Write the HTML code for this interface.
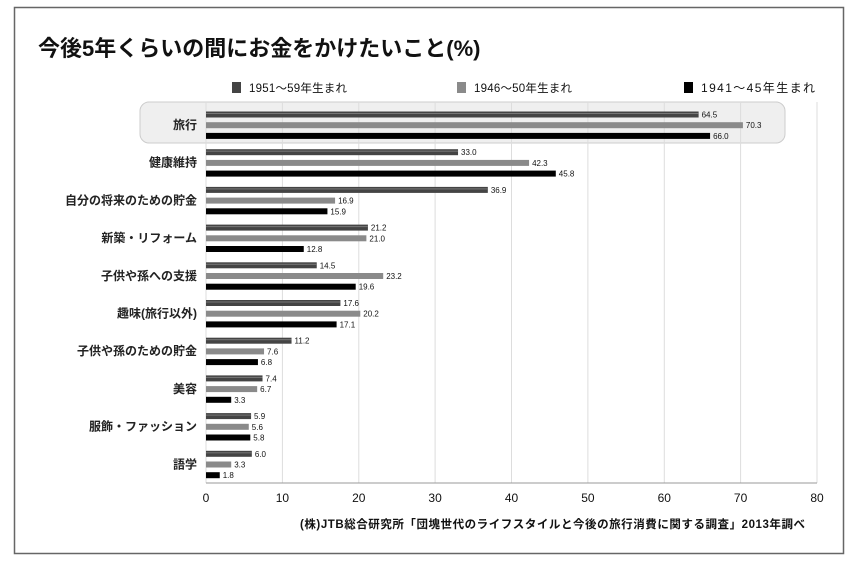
<!DOCTYPE html>
<html><head><meta charset="utf-8"><style>
body{margin:0;background:#fff;}
svg text{font-family:"Liberation Sans","Noto Sans CJK JP",sans-serif;}
</style></head><body>
<svg width="858" height="565" xmlns="http://www.w3.org/2000/svg">
<rect x="14.5" y="7.5" width="829" height="546" fill="#fff" stroke="#666" stroke-width="1.5"/>
<text x="38" y="56" font-size="22" font-weight="bold" fill="#111">今後5年くらいの間にお金をかけたいこと(%)</text>
<rect x="232" y="82" width="9" height="11" fill="#444"/>
<text x="249" y="92" font-size="11.5" fill="#111" textLength="98">1951～59年生まれ</text>
<rect x="457" y="82" width="9" height="11" fill="#8a8a8a"/>
<text x="474" y="92" font-size="11.5" fill="#111" textLength="98">1946～50年生まれ</text>
<rect x="684" y="82" width="9" height="11" fill="#000"/>
<text x="701" y="92" font-size="12" fill="#111" textLength="114">1941～45年生まれ</text>
<rect x="140" y="102" width="645" height="41" rx="9" fill="#efefef" stroke="#ccc"/>
<g stroke="#ddd" stroke-width="1">
<line x1="282.4" y1="102" x2="282.4" y2="483"/><line x1="358.8" y1="102" x2="358.8" y2="483"/>
<line x1="435.1" y1="102" x2="435.1" y2="483"/><line x1="511.5" y1="102" x2="511.5" y2="483"/>
<line x1="587.9" y1="102" x2="587.9" y2="483"/><line x1="664.3" y1="102" x2="664.3" y2="483"/>
<line x1="740.6" y1="102" x2="740.6" y2="483"/><line x1="817" y1="102" x2="817" y2="483"/>
<line x1="206" y1="102" x2="206" y2="483"/>
</g>
<line x1="206" y1="483" x2="817" y2="483" stroke="#999"/>
<g id="bars"></g>
<g font-size="12" fill="#111" text-anchor="middle">
<text x="206" y="502">0</text><text x="282.4" y="502">10</text><text x="358.8" y="502">20</text><text x="435.1" y="502">30</text><text x="511.5" y="502">40</text><text x="587.9" y="502">50</text><text x="664.3" y="502">60</text><text x="740.6" y="502">70</text><text x="817" y="502">80</text>
</g>
<text x="300" y="528" font-size="11.5" font-weight="bold" fill="#111" textLength="505">(株)JTB総合研究所「団塊世代のライフスタイルと今後の旅行消費に関する調査」2013年調べ</text>
</svg>
<script>
var cats=["旅行","健康維持","自分の将来のための貯金","新築・リフォーム","子供や孫への支援","趣味(旅行以外)","子供や孫のための貯金","美容","服飾・ファッション","語学"];
var d=[[64.5,70.3,66.0],[33.0,42.3,45.8],[36.9,16.9,15.9],[21.2,21.0,12.8],[14.5,23.2,19.6],[17.6,20.2,17.1],[11.2,7.6,6.8],[7.4,6.7,3.3],[5.9,5.6,5.8],[6.0,3.3,1.8]];
var col=["#444","#8a8a8a","#000"],s="",sc=611/80;
for(var i=0;i<10;i++){var c=125+i*37.7;
s+='<text x="197" y="'+(c+4)+'" font-size="12" font-weight="bold" text-anchor="end" fill="#222">'+cats[i]+'</text>';
for(var j=0;j<3;j++){var y=c-13.5+j*10.7,w=d[i][j]*sc;
s+='<rect x="206" y="'+y+'" width="'+w+'" height="6" fill="'+col[j]+'"/>';
if(j==0)s+='<rect x="206" y="'+(y+1.5)+'" width="'+w+'" height="1" fill="#777"/>';
s+='<text x="'+(209+w)+'" y="'+(y+6)+'" font-size="8" fill="#111">'+d[i][j].toFixed(1)+'</text>';}}
document.getElementById("bars").innerHTML=s;
</script>
</body></html>
